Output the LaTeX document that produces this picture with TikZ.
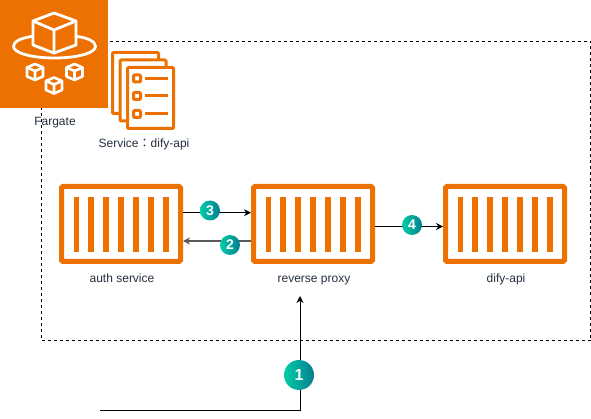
\documentclass[tikz,border=0pt]{standalone}
\usepackage{fontspec}
\setmainfont{Liberation Sans}
\newfontfamily\cjkf{Noto Sans CJK TC}
\usetikzlibrary{arrows.meta}
\definecolor{aws}{HTML}{ED7100}
\definecolor{txt}{HTML}{232F3E}
\definecolor{badgeL}{HTML}{02CDA8}
\definecolor{badgeR}{HTML}{047E8E}
\tikzset{
  x=1pt,y=-1pt,
  frame/.style={draw=aws,line width=5pt,rounded corners=1.5pt,fill=white,minimum width=119pt,minimum height=75pt,inner sep=0pt},
  lbl/.style={text=txt,font=\fontsize{12}{14}\selectfont,inner sep=0pt,anchor=base},
  conn/.style={line width=1pt,-{Stealth[length=7pt,width=7pt]}},
  badge/.style={circle,left color=badgeL,right color=badgeR,text=white,inner sep=0pt,font=\bfseries\fontsize{14}{14}\selectfont,minimum size=20pt},
  wl/.style={draw=white,line width=2.8pt,line join=round,line cap=round},
  wm/.style={draw=white,line width=2.6pt,line join=round,line cap=round},
  ol/.style={draw=aws,line width=3pt,line join=round,rounded corners=1pt},
}
\newcommand{\bars}[1]{\foreach \i in {0,...,6}{\fill[aws] ([xshift=14.5pt+\i*14.9pt]#1.north west) ++(0pt,-13pt) rectangle ++(5.6pt,-55pt);}}
\newcommand{\minicube}[2]{\begin{scope}[shift={(#1,#2)}]
  \draw[wm] (0,-8)--(8,-4.5)--(8,4.5)--(0,8)--(-8,4.5)--(-8,-4.5)--cycle;
  \draw[wm] (-8,-4.5)--(0,-1)--(8,-4.5) (0,-1)--(0,8);
\end{scope}}
\begin{document}
\begin{tikzpicture}
\useasboundingbox (0,0) rectangle (591,419);
% dashed group
\draw[line width=0.8pt,dash pattern=on 3pt off 3pt] (41,41) rectangle (590.5,340.5);
% Fargate
\node[fill=aws,minimum size=108pt,inner sep=0pt,anchor=north west] (fargate) at (0,0) {};
\draw[wl] (54,13)--(76,21)--(76,45)--(54,53)--(33,45)--(33,21)--cycle;
\draw[wl] (33,21)--(54,30)--(76,21) (54,30)--(54,53);
\draw[wl] (32,36.5) .. controls (20,38) and (13.5,42) .. (13.5,46.5) .. controls (13.5,53) and (32,58) .. (54.5,58) .. controls (77,58) and (95.5,53) .. (95.5,46.5) .. controls (95.5,42) and (89,38) .. (77,36.5);
\minicube{35}{72}
\minicube{74.5}{72}
\minicube{54}{85.5}
\node[lbl] (fargatelbl) at (55,126) {Fargate};
% Service icon
\foreach \dx/\dy in {0/0,7.5/7.5,15/15}{
  \draw[ol,fill=white] (112.5+\dx,52.5+\dy) rectangle ++(46,61);
}
\foreach \y in {78.5,96,114}{
  \draw[ol,fill=white] (133.5,\y-3.5) rectangle ++(7,7);
  \draw[draw=aws,line width=3pt] (145,\y)--(168,\y);
}
\node[lbl] (svclbl) at (144,148) {Service{\cjkf：}dify-api};
% containers
\node[frame,anchor=center] (auth) at (121,224) {};
\node[frame,anchor=center] (proxy) at (313,224) {};
\node[frame,anchor=center] (dify) at (505,224) {};
\bars{auth}\bars{proxy}\bars{dify}
\node[lbl] (authl) at (122,283) {auth service};
\node[lbl] (proxyl) at (314,283) {reverse proxy};
\node[lbl] (difyl) at (506,283) {dify-api};
% connectors
\coordinate (s1) at (100,410);
\coordinate (e1) at (300,296);
\draw[conn] (s1) -- (e1 |- s1) -- (e1);
\draw[conn] (auth.east |- 0,212.7) -- (proxy.west |- 0,212.7);
\draw[conn,draw=black!65,line width=1.5pt] (proxy.west |- 0,241) -- (auth.east |- 0,241);
\draw[conn] (proxy.east |- 0,226.5) -- (dify.west |- 0,226.5);
\node[badge] (b3) at (210,210.5) {3};
\node[badge] (b2) at (230,245) {2};
\node[badge] (b4) at (412,225) {4};
\node[badge,minimum size=30pt,font=\bfseries\fontsize{16}{16}\selectfont] (b1) at (299,375) {1};
\end{tikzpicture}
\end{document}
